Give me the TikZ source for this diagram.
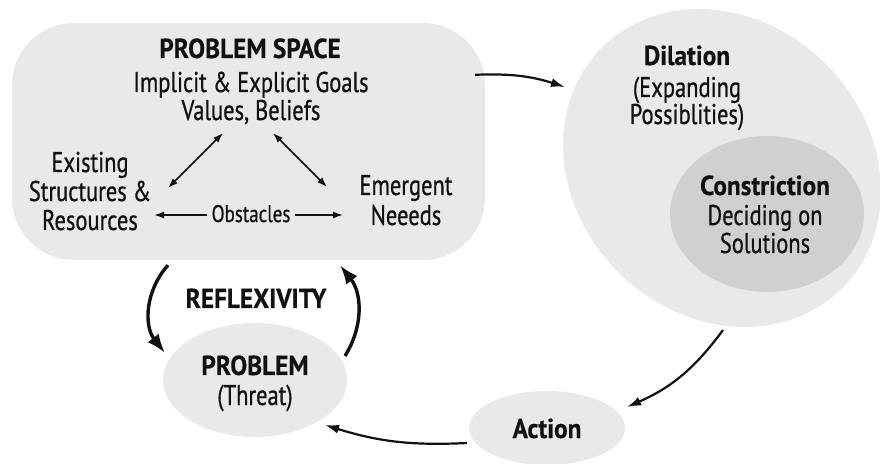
\documentclass[tikz,border=0pt]{standalone}
\usepackage{fontspec}
\setmainfont[UprightFeatures={FakeStretch=0.79, FakeBold=0.7},
  BoldFeatures={FakeStretch=0.92, FakeBold=0.4}]{PT Sans}
\usetikzlibrary{arrows.meta,calc,shapes.geometric}
\definecolor{shade}{HTML}{E8E9EA}
\definecolor{shadedark}{HTML}{CFD0D2}
\definecolor{ink}{HTML}{111111}
\begin{document}
\begin{tikzpicture}[x=1pt,y=1pt,
  blob/.style={fill=shade, draw=none, inner sep=0pt},
  txt/.style={inner sep=0pt, align=center, text=ink, anchor=base,
    font=\fontsize{28.5}{29}\selectfont},
  head/.style={txt, font=\fontsize{27.5}{29}\selectfont\bfseries},
  small/.style={draw=ink, line width=1.5pt, {Latex[length=10pt,width=7pt]}-{Latex[length=10pt,width=7pt]}},
  oneway/.style={draw=ink, line width=1.5pt, -{Latex[length=10pt,width=7pt]}},
  flow/.style={draw=ink, line width=2.2pt, -{Latex[length=14pt,width=9pt]}},
  loop/.style={draw=ink, line width=3.4pt, -{Latex[length=19pt,width=14pt]}}
]
\useasboundingbox (0,0) rectangle (880,463);

% shapes
\node[blob, rounded corners=62pt, minimum width=473pt, minimum height=237pt] (ps) at (248.5,321.5) {};
\node[blob, ellipse, minimum width=340pt, minimum height=294pt, rotate=-45] (dil) at (722,295) {};
\node[ellipse, fill=shadedark, draw=none, minimum width=194pt, minimum height=156pt] (con) at (767,249) {};
\node[blob, ellipse, minimum width=156pt, minimum height=74pt] (act) at (547,35) {};
\node[blob, ellipse, minimum width=184pt, minimum height=114pt] (prob) at (255,83) {};

% problem space texts (multi-line nodes sit on their last baseline)
\node[head] (tps) at (250,405) {PROBLEM SPACE};
\node[txt, font=\fontsize{28.5}{28}\selectfont] (tgoals) at (251,343) {Implicit \& Explicit Goals\\Values, Beliefs};
\node[txt] (texist) at (90,233) {Existing\\Structures \&\\Resources};
\node[txt, font=\fontsize{28.5}{30}\selectfont] (temerg) at (406,238) {Emergent\\Neeeds};
\node[txt, font=\fontsize{24}{25}\selectfont] (tobs) at (251,241) {Obstacles};

% other texts
\node[head] (trefl) at (256,155) {REFLEXIVITY};
\node[head] (tprob) at (255,88) {PROBLEM};
\node[txt] (tthreat) at (255,58) {(Threat)};
\node[head] (tact) at (547,25) {Action};
\node[head] (tdil) at (687,398) {Dilation};
\node[txt, font=\fontsize{28.5}{27}\selectfont] (texp) at (687,339) {(Expanding\\Possiblities)};
\node[head] (tcon) at (765,268) {Constriction};
\node[txt, font=\fontsize{28.5}{28}\selectfont] (tdec) at (765,210) {Deciding on\\Solutions};

% relations inside the problem space
\coordinate (gl) at (223,330);
\coordinate (gr) at (273,330);
\coordinate (ex) at (168,275);
\coordinate (em) at (327,276);
\coordinate (obl) at (154,248);
\coordinate (obr) at (343,248);
\draw[small] (gl) -- (ex);
\draw[small] (gr) -- (em);
\draw[oneway] ($(tobs.base west)+(-4,7)$) -- (obl);
\draw[oneway] ($(tobs.base east)+(4,7)$) -- (obr);

% cycle
\draw[flow] ($(ps.north east)+(-10,-52)$) to[bend left=10] ($(dil.center)+(-157,81)$);
\draw[flow] ($(dil.center)+(1,-162)$) to[bend left=15] ($(act.center)+(80,21)$);
\draw[flow] ($(act.center)+(-80,-15)$) to[bend left=10] ($(prob.center)+(70,-45)$);
\draw[loop] ($(ps.south)+(-80.5,-5)$) to[bend right=40] ($(prob.center)+(-90,27)$);
\draw[loop] ($(prob.center)+(90,24)$) to[bend right=35] ($(ps.south)+(91.5,-5)$);
\end{tikzpicture}
\end{document}
